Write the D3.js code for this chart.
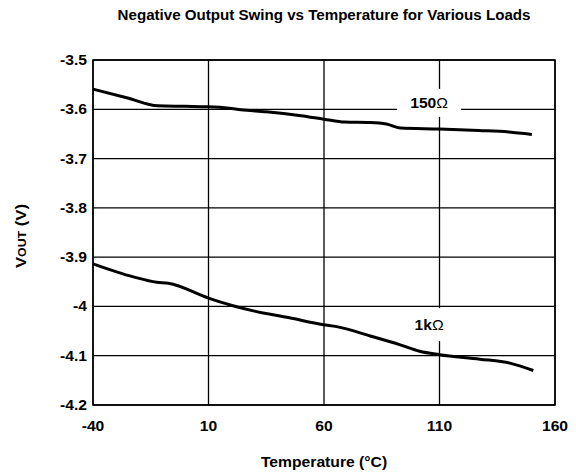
<!DOCTYPE html>
<html><head><meta charset="utf-8">
<script src="https://cdn.jsdelivr.net/npm/d3@7"></script>
<style>body{margin:0;background:#fff}svg{display:block}text{font-family:"Liberation Sans",Arial,sans-serif;font-weight:bold;fill:#000}</style>
</head><body><svg id="c" width="576" height="474"></svg>
<script>
const xTicks = [-40, 10, 60, 110, 160];
const yTicks = [-3.5, -3.6, -3.7, -3.8, -3.9, -4, -4.1, -4.2];
const yTickLabels = ["-3.5", "-3.6", "-3.7", "-3.8", "-3.9", "-4", "-4.1", "-4.2"];
const temp150 = [-40, -25, -12, 0, 10, 19, 24, 35, 50, 60, 69, 80, 87, 93, 110, 127, 140, 150];
const vout150 = [-3.559, -3.577, -3.593, -3.594, -3.595, -3.598, -3.601, -3.605, -3.613, -3.620, -3.626, -3.627, -3.630, -3.638, -3.640, -3.643, -3.646, -3.651];
const temp1k = [-40, -22.5, -12.4, -7.4, 10, 19.4, 29.4, 45, 59.7, 65.5, 80, 93, 101.4, 110, 127.5, 140.5, 150.6];
const vout1k = [-3.9135, -3.940, -3.951, -3.953, -3.983, -3.997, -4.009, -4.023, -4.037, -4.041, -4.060, -4.078, -4.091, -4.098, -4.107, -4.115, -4.130];
const seriesLabels = [{name:"150", x:105.5, y:-3.587, w:64, h:28}, {name:"1k", x:105.5, y:-4.037, w:50, h:33}];

const svg = d3.select("#c");
const L = 93, R = 555, T = 60, B = 405;
const x = d3.scaleLinear().domain([-40, 160]).range([L, R]);
const y = d3.scaleLinear().domain([-4.2, -3.5]).range([B, T]);
const SX = 1.12;
const tr = (px, py, rot) => `translate(${px},${py})` + (rot ? ` rotate(${rot})` : "") + ` scale(${SX},1)`;

// grid
const g = svg.append("g");
g.selectAll("line.v").data(xTicks).join("line")
  .attr("x1", d => x(d)).attr("x2", d => x(d)).attr("y1", T).attr("y2", B)
  .attr("stroke", "#000").attr("stroke-width", 1.3);
g.selectAll("line.h").data(yTicks).join("line").attr("class","h")
  .attr("x1", L).attr("x2", R).attr("y1", d => y(d)).attr("y2", d => y(d))
  .attr("stroke", "#000").attr("stroke-width", 1.3);
svg.append("rect").attr("x", L).attr("y", T).attr("width", R - L).attr("height", B - T)
  .attr("fill", "none").attr("stroke", "#000").attr("stroke-width", 1.5);

// label boxes
seriesLabels.forEach(s => {
  svg.append("rect").attr("x", x(s.x) - s.w/2).attr("y", y(s.y) - s.h/2)
    .attr("width", s.w).attr("height", s.h).attr("fill", "#fff");
});

// curves
const line = d3.line().x(d => x(d[0])).y(d => y(d[1])).curve(d3.curveMonotoneX);
[[temp150, vout150], [temp1k, vout1k]].forEach(([t, v]) => {
  svg.append("path").datum(t.map((d, i) => [d, v[i]])).attr("d", line)
    .attr("fill", "none").attr("stroke", "#000").attr("stroke-width", 3)
    .attr("stroke-linejoin", "round");
});

// series labels
seriesLabels.forEach(s => {
  const t = svg.append("text").attr("transform", tr(x(s.x), y(s.y) + 5))
    .attr("text-anchor", "middle").style("font-size", "14px");
  t.append("tspan").text(s.name);
  t.append("tspan").style("font-weight", "normal").text("Ω");
});

// tick labels
svg.selectAll("text.xt").data(xTicks).join("text").attr("class", "xt")
  .attr("transform", d => tr(x(d), 431)).attr("text-anchor", "middle")
  .style("font-size", "14px").text(d => d);
svg.selectAll("text.yt").data(yTicks).join("text").attr("class", "yt")
  .attr("transform", d => tr(87, y(d) + 5)).attr("text-anchor", "end")
  .style("font-size", "14px").text((d, i) => yTickLabels[i]);

// titles
svg.append("text").attr("transform", `translate(${(L + R) / 2},20) scale(1.08,1)`).attr("text-anchor", "middle")
  .style("font-size", "14px").text("Negative Output Swing vs Temperature for Various Loads");
svg.append("text").attr("transform", tr((L + R) / 2, 467)).attr("text-anchor", "middle")
  .style("font-size", "14px").text("Temperature (°C)");
const yt = svg.append("text").attr("transform", tr(26, 236, -90))
  .attr("text-anchor", "middle").style("font-size", "15px");
yt.append("tspan").text("V");
yt.append("tspan").style("font-size", "11px").text("OUT");
yt.append("tspan").text(" (V)");
</script></body></html>
